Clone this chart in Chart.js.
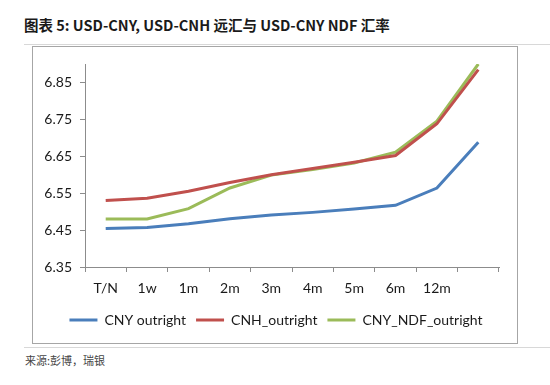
<!DOCTYPE html>
<html>
<head>
<meta charset="utf-8">
<script src="https://cdn.jsdelivr.net/npm/chart.js@4"></script>
<style>
  body { margin: 0; background: #fff; width: 550px; height: 385px; position: relative; overflow: hidden; }
  #title { position: absolute; left: 24px; top: 14px; font: bold 14.5px "Noto Sans CJK SC", sans-serif; color: #1a1a1a; white-space: nowrap; }
  #topRule { position: absolute; left: 24px; top: 44px; width: 526px; height: 1px; background: #d8d8d8; }
  #frame { position: absolute; left: 32px; top: 46px; width: 484px; height: 296px; border: 1.5px solid #a6a6a6; }
  #bottomRule { position: absolute; left: 24px; top: 347px; width: 526px; height: 1px; background: #d8d8d8; }
  #source { position: absolute; left: 25px; top: 352px; font: 11px "Noto Sans CJK SC", serif; color: #444; }
  #wrap { position: absolute; left: 33px; top: 47px; width: 484px; height: 296px; }
</style>
</head>
<body>
<div id="title">图表 5: USD-CNY, USD-CNH 远汇与 USD-CNY NDF 汇率</div>
<div id="topRule"></div>
<div id="frame"></div>
<div id="wrap"><canvas id="fxChart"></canvas></div>
<div id="bottomRule"></div>
<div id="source">来源:彭博，瑞银</div>
<script>
  const tenors = ['T/N', '1w', '1m', '2m', '3m', '4m', '5m', '6m', '12m', ''];
  const cnyOutright = [6.454, 6.457, 6.467, 6.481, 6.491, 6.498, 6.507, 6.517, 6.564, 6.688];
  const cnhOutright = [6.530, 6.536, 6.555, 6.579, 6.600, 6.617, 6.634, 6.652, 6.738, 6.885];
  const ndfOutright = [6.480, 6.480, 6.508, 6.564, 6.599, 6.614, 6.632, 6.661, 6.745, 6.900];
  const yTicks = [6.35, 6.45, 6.55, 6.65, 6.75, 6.85];

  const axisColor = '#8c8c8c';
  const textFont = { family: 'Lato', size: 14 };

  function line(label, data, color) {
    return { label, data, borderColor: color, backgroundColor: color, borderWidth: 3, pointRadius: 0, tension: 0 };
  }

  // legend sits a little right of the canvas centre in the original
  const nudgeLegend = {
    id: 'nudgeLegend',
    afterLayout(chart) {
      if (chart.legend) { chart.legend.left += 10; chart.legend.right += 10; }
    }
  };

  new Chart(document.getElementById('fxChart'), {
    type: 'line',
    data: {
      labels: tenors,
      datasets: [
        line('CNY outright', cnyOutright, '#4a7ebb'),
        line('CNH_outright', cnhOutright, '#c0504d'),
        line('CNY_NDF_outright', ndfOutright, '#9bbb59')
      ]
    },
    plugins: [nudgeLegend],
    options: {
      responsive: true,
      maintainAspectRatio: false,
      animation: false,
      layout: { padding: { left: 0, right: 18, top: 17, bottom: 6 } },
      plugins: {
        tooltip: { enabled: false },
        legend: {
          position: 'bottom',
          labels: { usePointStyle: true, pointStyle: 'line', pointStyleWidth: 28, color: '#1a1a1a', font: textFont, padding: 10 }
        }
      },
      scales: {
        x: {
          offset: true,
          grid: { offset: true, drawOnChartArea: false, tickLength: 5, color: axisColor },
          border: { color: axisColor, width: 1 },
          ticks: { color: '#1a1a1a', font: textFont, padding: 8, maxRotation: 0, autoSkip: false },
          afterFit: s => { s.height = 36; }
        },
        y: {
          min: 6.35,
          max: 6.90,
          grid: { drawOnChartArea: false, tickLength: 5, color: axisColor },
          border: { color: axisColor, width: 1 },
          ticks: { color: '#1a1a1a', font: textFont, padding: 8, callback: v => v.toFixed(2) },
          afterBuildTicks: s => { s.ticks = yTicks.map(v => ({ value: v })); },
          afterFit: s => { s.width = 52; }
        }
      }
    }
  });
</script>
</body>
</html>
